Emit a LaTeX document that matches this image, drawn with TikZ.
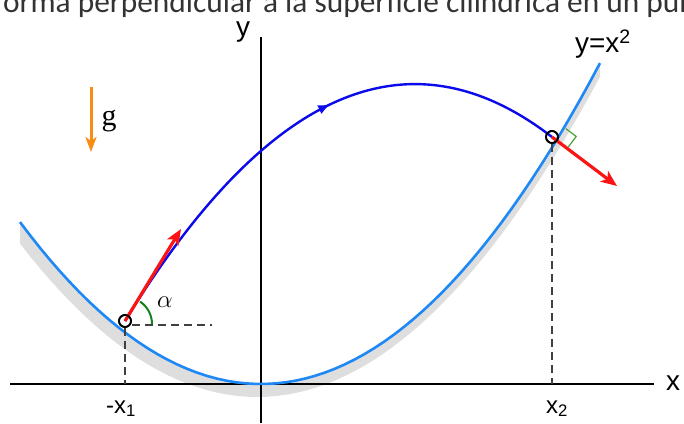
\documentclass[tikz,border=0pt]{standalone}
\usepackage{fontspec}
\setmainfont{Liberation Sans}
\newfontfamily\captionfont{Carlito}
\newfontfamily\gfont{Liberation Serif}
\usetikzlibrary{arrows.meta,calc,positioning,decorations.markings}
\definecolor{surfblue}{RGB}{30,136,245}
\definecolor{pathblue}{RGB}{10,10,235}
\definecolor{vecred}{RGB}{250,20,20}
\definecolor{anggreen}{RGB}{20,130,30}
\definecolor{rightgreen}{RGB}{70,160,50}
\definecolor{gorange}{RGB}{250,140,20}
\definecolor{shadowgray}{RGB}{222,222,222}

\begin{document}
\begin{tikzpicture}[x=1bp,y=-1bp,
  lab/.style={inner sep=0pt, font=\fontsize{28}{30}\selectfont},
  sublab/.style={inner sep=0pt, font=\fontsize{24}{26}\selectfont},
  vec/.style={vecred, line width=3.2bp, -{Stealth[length=16bp,width=13bp,inset=4bp]}},
  guide/.style={black!75, line width=1.2bp, dash pattern=on 8bp off 5bp},
  ball/.style={circle, draw=black, line width=1.7bp, minimum size=12bp, inner sep=0pt}]
\useasboundingbox (0,0) rectangle (684,423);
% cut-off line of text above the figure
\node[anchor=base west, inner sep=0pt, font=\captionfont\fontsize{31.5}{33}\selectfont, text=black!80] (caption) at (-6,12) {forma perpendicular a la superficie cilíndrica en un punto};
% surface y=x^2 and its shadow
\fill[shadowgray] plot[domain=20:600, samples=60] (\x,{384-(0.05283*(\x-260.9))^2})
  -- plot[domain=600:20, samples=60] (\x,{397-(0.05221*(\x-257.2))^2}) -- cycle;
% axes
\coordinate (xl) at (10,384);
\coordinate (xr) at (654,384);
\coordinate (yb) at (261,423);
\coordinate (yt) at (261,37);
\draw[line width=2.4bp] (xl) -- (xr);
\draw[line width=2.4bp] (yb) -- (yt);
\node[lab, anchor=base] (xlab) at (673,390) {x};
\node[lab, anchor=base] (ylab) at (243,36) {y};
\draw[surfblue, line width=2.6bp] plot[domain=20:600, samples=60] (\x,{384-(0.05283*(\x-260.9))^2});
\node[lab, anchor=base] (curvelab) at (603,52) {y=x\textsuperscript{2}};
% the two positions
\node[ball] (ball1) at (125,321) {};
\node[ball] (ball2) at (552,137) {};
\coordinate (h1) at (212,325);
\draw[guide] (ball1.east |- h1) -- (h1);
\draw[guide] (ball1.south) -- (ball1.south |- xl);
\draw[guide] (ball2.south) -- (ball2.south |- xl);
\node[sublab, anchor=base] (x1lab) at (121,413) {-x\textsubscript{1}};
\node[sublab, anchor=base] (x2lab) at (557,413) {x\textsubscript{2}};
% trajectory
\draw[pathblue, line width=2.4bp, postaction={decorate},
  decoration={markings, mark=at position 0.56 with {\arrow{Latex[length=12bp,width=10bp]}}}]
  (ball1.center) .. controls (267.3,88.4) and (409.7,27.1) .. (ball2.center);
% velocities and angle
\coordinate (v1) at (181,229);
\coordinate (v2) at (617,186);
\draw[anggreen, line width=2bp] ($(ball1.center)+(27,3)$) arc[start angle=0, end angle=-56, radius=27];
\node[font=\fontsize{30}{32}\selectfont] (alab) at (165,302) {$\alpha$};
\draw[vec] (ball1.center) -- (v1);
\draw[vec] (ball2.center) -- (v2);
\draw[rightgreen, line width=1.2bp] ($(ball2.center)+(13.8,-8.4)$) -- ++(10.4,7.8) -- ++(-7.8,10.4);
\node[ball] at (ball1) {};
\node[ball] at (ball2) {};
% gravity
\coordinate (gtop) at (91,87);
\coordinate (gbot) at (91,152);
\draw[gorange, line width=3bp, -{Stealth[length=15bp,width=11bp,inset=4bp]}] (gtop) -- (gbot);
\node[inner sep=0pt, font=\gfont\fontsize{30}{32}\selectfont, anchor=base] (glab) at (109,125) {g};
\end{tikzpicture}
\end{document}
